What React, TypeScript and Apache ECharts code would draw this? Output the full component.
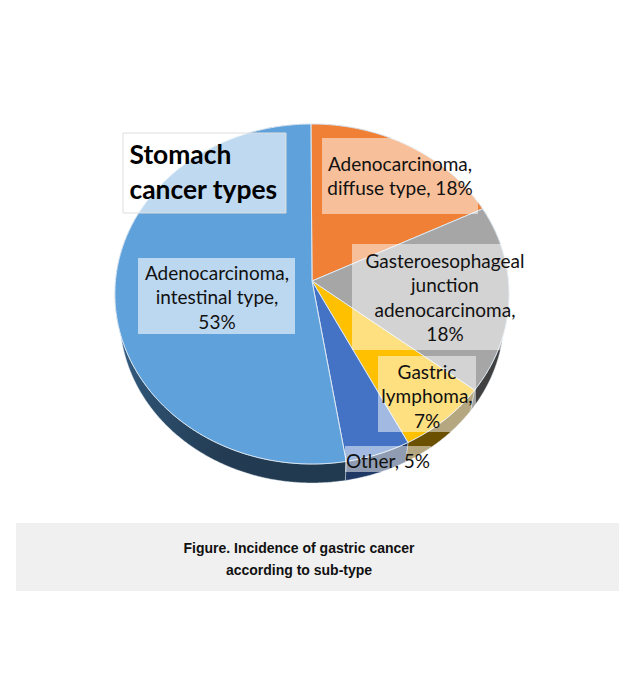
import React, { useEffect, useRef } from "react";
import * as echarts from "echarts";

const categories = [
  "Adenocarcinoma, diffuse type",
  "Gasteroesophageal junction adenocarcinoma",
  "Gastric lymphoma",
  "Other",
  "Adenocarcinoma, intestinal type",
];
const seriesValues = [18, 18, 7, 5, 53];
const labelTexts = [
  "Adenocarcinoma,\ndiffuse type, 18%",
  "Gasteroesophageal\njunction\nadenocarcinoma,\n18%",
  "Gastric\nlymphoma,\n7%",
  "Other, 5%",
  "Adenocarcinoma,\nintestinal type,\n53%",
];
const chartTitle = "Stomach\ncancer types";
const captionLines = ["Figure. Incidence of gastric cancer", "according to sub-type"];

const topColors = ["#EF8035", "#A6A6A6", "#FFC000", "#4472C4", "#5FA1DB"];
const wallColors: any[] = [
  "#8a4a1d",
  "#404040",
  "#6B5000",
  "#1F3864",
  {
    type: "linear", x: 0, y: 0, x2: 1, y2: 0.55,
    colorStops: [
      { offset: 0, color: "#44749F" },
      { offset: 0.45, color: "#2C4E6D" },
      { offset: 0.75, color: "#233C53" },
      { offset: 1, color: "#223A50" },
    ],
  },
];
const labelBoxes = [
  { x: 322, y: 138, w: 156, h: 76, cx: 400, cy: 175.5, alpha: 0.5 },
  { x: 352, y: 244, w: 180, h: 106, cx: 445, cy: 297, alpha: 0.5 },
  { x: 378, y: 356, w: 98, h: 76, cx: 427, cy: 395.5, alpha: 0.5 },
  { x: 345, y: 446, w: 86, h: 26, cx: 388, cy: 460, alpha: 0.5 },
  { x: 138, y: 258, w: 157, h: 76, cx: 217, cy: 296.5, alpha: 0.58 },
];

const total = seriesValues.reduce((a, b) => a + b, 0);
const fractions: number[] = [];
seriesValues.reduce((acc, v) => {
  fractions.push(acc / total);
  return acc + v;
}, 0);

const CX = 312, APEX_Y = 281, A = 196.5, B = 147.5, K = -0.0765;
const DEPTH_SCALE = 0.975, TOP_CY = 294, LOW_CY = 317.2, START_ANGLE = -0.006;

function rim(theta: number): number[] {
  const u = Math.sin(theta), v = -Math.cos(theta), w = 1 + K * v;
  return [CX + (A * u) / w, (B * v + APEX_Y) / w];
}
function lowRim(theta: number): number[] {
  const p = rim(theta);
  return [CX + (p[0] - CX) * DEPTH_SCALE, LOW_CY + (p[1] - TOP_CY) * DEPTH_SCALE];
}
function arc(i: number, fn: (t: number) => number[]): number[][] {
  const start = START_ANGLE + fractions[i] * Math.PI * 2;
  const end = start + (seriesValues[i] / total) * Math.PI * 2;
  const n = Math.max(4, Math.ceil((end - start) / 0.008));
  const pts: number[][] = [];
  for (let j = 0; j <= n; j++) pts.push(fn(start + ((end - start) * j) / n));
  return pts;
}

const data = categories.map((name, i) => ({ name, value: [i, seriesValues[i]] }));
const FONT = "Lato, 'Open Sans', sans-serif";

export default function App() {
  const ref = useRef<HTMLDivElement>(null);
  useEffect(() => {
    const chart = echarts.init(ref.current!, undefined, { renderer: "svg" });
    chart.setOption({
      animation: false,
      backgroundColor: "#ffffff",
      series: [
        {
          type: "custom",
          coordinateSystem: "none",
          name: "walls",
          z: 1,
          silent: true,
          data,
          renderItem: (_p: any, api: any) => {
            const i = api.value(0);
            const pts = arc(i, rim).concat(arc(i, lowRim).reverse());
            return {
              type: "polygon",
              shape: { points: pts },
              style: { fill: wallColors[i], stroke: "rgba(215,228,240,0.55)", lineWidth: 0.8 },
            };
          },
        },
        {
          type: "custom",
          coordinateSystem: "none",
          name: "slices",
          z: 2,
          silent: true,
          data,
          renderItem: (_p: any, api: any) => {
            const i = api.value(0);
            const pts = [[CX, APEX_Y]].concat(arc(i, rim));
            return {
              type: "polygon",
              shape: { points: pts },
              style: { fill: topColors[i], stroke: "#DCE8F3", lineWidth: 1 },
            };
          },
        },
        {
          type: "custom",
          coordinateSystem: "none",
          name: "labels",
          z: 3,
          silent: true,
          data,
          renderItem: (_p: any, api: any) => {
            const i = api.value(0);
            const b = labelBoxes[i];
            return {
              type: "group",
              children: [
                {
                  type: "rect",
                  shape: { x: b.x, y: b.y, width: b.w, height: b.h },
                  style: { fill: `rgba(255,255,255,${b.alpha})` },
                },
                {
                  type: "text",
                  style: {
                    text: labelTexts[i],
                    x: b.cx,
                    y: b.cy,
                    align: "center",
                    verticalAlign: "middle",
                    fill: "#111111",
                    font: `19px ${FONT}`,
                    lineHeight: 24.5,
                  },
                },
              ],
            };
          },
        },
      ],
      graphic: [
        {
          type: "rect",
          z: 10,
          shape: { x: 123, y: 133, width: 163, height: 80 },
          style: { fill: "rgba(255,255,255,0.6)", stroke: "#DEDEDE", lineWidth: 1 },
        },
        {
          type: "text",
          z: 11,
          style: {
            text: chartTitle,
            x: 129.5,
            y: 171,
            align: "left",
            verticalAlign: "middle",
            fill: "#000000",
            font: `bold 26.4px ${FONT}`,
            lineHeight: 35,
          },
        },
        {
          type: "rect",
          z: 10,
          shape: { x: 16, y: 523, width: 603, height: 68 },
          style: { fill: "#F0F0F0" },
        },
        ...captionLines.map((text, i) => ({
          type: "text",
          z: 11,
          style: {
            text,
            x: 299,
            y: 548 + i * 22,
            align: "center",
            verticalAlign: "middle",
            fill: "#111111",
            font: "bold 14px 'Liberation Sans', Arial, sans-serif",
          },
        })),
      ],
    });
    return () => chart.dispose();
  }, []);
  return (
    <div
      ref={ref}
      style={{ position: "fixed", left: 0, top: 0, width: 635, height: 690 }}
    />
  );
}
